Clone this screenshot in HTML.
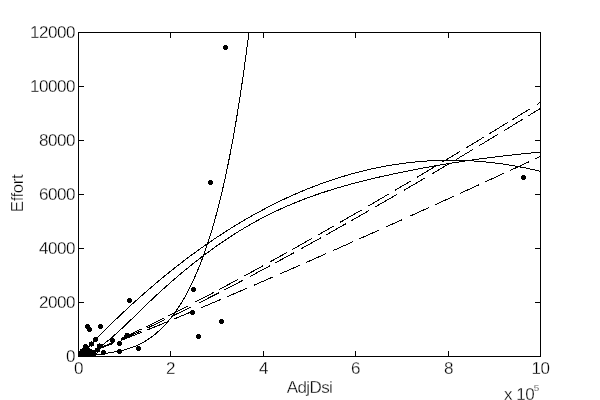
<!DOCTYPE html>
<html><head><meta charset="utf-8"><title>Effort vs AdjDsi</title>
<style>html,body{margin:0;padding:0;background:#fff;overflow:hidden}svg{display:block}</style>
</head><body>
<svg width="600" height="400" viewBox="0 0 600 400">
<rect width="600" height="400" fill="#fff"/>
<g fill="none" stroke="#000" stroke-width="1" shape-rendering="crispEdges">
<path d="M78.5 32.5H540.5V356.5H78.5Z"/>
<path d="M78.5 356V351 M78.5 33V38 M170.5 356V351 M170.5 33V38 M263.5 356V351 M263.5 33V38 M355.5 356V351 M355.5 33V38 M448.5 356V351 M448.5 33V38 M540.5 356V351 M540.5 33V38 M79 356.5H84 M540 356.5H535 M79 302.5H84 M540 302.5H535 M79 248.5H84 M540 248.5H535 M79 194.5H84 M540 194.5H535 M79 140.5H84 M540 140.5H535 M79 86.5H84 M540 86.5H535 M79 32.5H84 M540 32.5H535"/>
<clipPath id="c"><rect x="78" y="32" width="463" height="325"/></clipPath>
<g clip-path="url(#c)">
<path d="M78.5 357.44 L80.5 355.3 L82.5 353.17 L84.5 351.05 L86.5 348.95 L88.5 346.85 L90.5 344.77 L92.5 342.71 L94.5 340.65 L96.5 338.6 L98.5 336.57 L100.5 334.55 L102.5 332.54 L104.5 330.54 L106.5 328.56 L108.5 326.59 L110.5 324.62 L112.5 322.68 L114.5 320.74 L116.5 318.81 L118.5 316.9 L120.5 315 L122.5 313.11 L124.5 311.23 L126.5 309.36 L128.5 307.51 L130.5 305.66 L132.5 303.83 L134.5 302.01 L136.5 300.21 L138.5 298.41 L140.5 296.63 L142.5 294.86 L144.5 293.1 L146.5 291.35 L148.5 289.61 L150.5 287.89 L152.5 286.18 L154.5 284.48 L156.5 282.79 L158.5 281.11 L160.5 279.44 L162.5 277.79 L164.5 276.15 L166.5 274.52 L168.5 272.9 L170.5 271.29 L172.5 269.7 L174.5 268.11 L176.5 266.54 L178.5 264.98 L180.5 263.44 L182.5 261.9 L184.5 260.37 L186.5 258.86 L188.5 257.36 L190.5 255.87 L192.5 254.39 L194.5 252.93 L196.5 251.47 L198.5 250.03 L200.5 248.6 L202.5 247.18 L204.5 245.77 L206.5 244.38 L208.5 242.99 L210.5 241.62 L212.5 240.26 L214.5 238.91 L216.5 237.57 L218.5 236.25 L220.5 234.93 L222.5 233.63 L224.5 232.34 L226.5 231.06 L228.5 229.79 L230.5 228.54 L232.5 227.29 L234.5 226.06 L236.5 224.84 L238.5 223.63 L240.5 222.43 L242.5 221.24 L244.5 220.07 L246.5 218.9 L248.5 217.75 L250.5 216.61 L252.5 215.48 L254.5 214.37 L256.5 213.26 L258.5 212.17 L260.5 211.09 L262.5 210.01 L264.5 208.96 L266.5 207.91 L268.5 206.87 L270.5 205.85 L272.5 204.83 L274.5 203.83 L276.5 202.84 L278.5 201.86 L280.5 200.9 L282.5 199.94 L284.5 199 L286.5 198.06 L288.5 197.14 L290.5 196.23 L292.5 195.33 L294.5 194.45 L296.5 193.57 L298.5 192.71 L300.5 191.86 L302.5 191.01 L304.5 190.19 L306.5 189.37 L308.5 188.56 L310.5 187.77 L312.5 186.98 L314.5 186.21 L316.5 185.45 L318.5 184.7 L320.5 183.96 L322.5 183.23 L324.5 182.52 L326.5 181.82 L328.5 181.12 L330.5 180.44 L332.5 179.77 L334.5 179.11 L336.5 178.47 L338.5 177.83 L340.5 177.21 L342.5 176.59 L344.5 175.99 L346.5 175.4 L348.5 174.82 L350.5 174.26 L352.5 173.7 L354.5 173.16 L356.5 172.62 L358.5 172.1 L360.5 171.59 L362.5 171.09 L364.5 170.6 L366.5 170.13 L368.5 169.66 L370.5 169.21 L372.5 168.76 L374.5 168.33 L376.5 167.91 L378.5 167.5 L380.5 167.1 L382.5 166.72 L384.5 166.34 L386.5 165.98 L388.5 165.62 L390.5 165.28 L392.5 164.95 L394.5 164.63 L396.5 164.33 L398.5 164.03 L400.5 163.74 L402.5 163.47 L404.5 163.21 L406.5 162.96 L408.5 162.71 L410.5 162.49 L412.5 162.27 L414.5 162.06 L416.5 161.86 L418.5 161.68 L420.5 161.51 L422.5 161.35 L424.5 161.19 L426.5 161.05 L428.5 160.93 L430.5 160.81 L432.5 160.7 L434.5 160.61 L436.5 160.52 L438.5 160.45 L440.5 160.39 L442.5 160.34 L444.5 160.3 L446.5 160.27 L448.5 160.25 L450.5 160.25 L452.5 160.25 L454.5 160.27 L456.5 160.29 L458.5 160.33 L460.5 160.38 L462.5 160.44 L464.5 160.51 L466.5 160.6 L468.5 160.69 L470.5 160.8 L472.5 160.91 L474.5 161.04 L476.5 161.18 L478.5 161.32 L480.5 161.48 L482.5 161.66 L484.5 161.84 L486.5 162.03 L488.5 162.24 L490.5 162.45 L492.5 162.68 L494.5 162.91 L496.5 163.16 L498.5 163.42 L500.5 163.69 L502.5 163.97 L504.5 164.26 L506.5 164.57 L508.5 164.88 L510.5 165.21 L512.5 165.54 L514.5 165.89 L516.5 166.25 L518.5 166.62 L520.5 167 L522.5 167.39 L524.5 167.79 L526.5 168.2 L528.5 168.63 L530.5 169.06 L532.5 169.51 L534.5 169.96 L536.5 170.43 L538.5 170.91 L540.5 171.4 L540.5 171.4"/>
<path d="M78.5 357.91 L80.5 357.27 L82.5 356.54 L84.5 355.72 L86.5 354.82 L88.5 353.83 L90.5 352.77 L92.5 351.63 L94.5 350.43 L96.5 349.15 L98.5 347.81 L100.5 346.41 L102.5 344.95 L104.5 343.43 L106.5 341.87 L108.5 340.25 L110.5 338.59 L112.5 336.89 L114.5 335.14 L116.5 333.37 L118.5 331.56 L120.5 329.72 L122.5 327.85 L124.5 325.96 L126.5 324.05 L128.5 322.13 L130.5 320.19 L132.5 318.25 L134.5 316.29 L136.5 314.33 L138.5 312.38 L140.5 310.42 L142.5 308.47 L144.5 306.53 L146.5 304.61 L148.5 302.7 L150.5 300.8 L152.5 298.91 L154.5 297.04 L156.5 295.18 L158.5 293.34 L160.5 291.51 L162.5 289.69 L164.5 287.89 L166.5 286.1 L168.5 284.32 L170.5 282.56 L172.5 280.82 L174.5 279.09 L176.5 277.37 L178.5 275.67 L180.5 273.98 L182.5 272.3 L184.5 270.65 L186.5 269 L188.5 267.37 L190.5 265.76 L192.5 264.15 L194.5 262.57 L196.5 261 L198.5 259.44 L200.5 257.9 L202.5 256.37 L204.5 254.86 L206.5 253.37 L208.5 251.89 L210.5 250.42 L212.5 248.97 L214.5 247.54 L216.5 246.12 L218.5 244.72 L220.5 243.33 L222.5 241.95 L224.5 240.6 L226.5 239.26 L228.5 237.93 L230.5 236.62 L232.5 235.33 L234.5 234.05 L236.5 232.79 L238.5 231.54 L240.5 230.31 L242.5 229.1 L244.5 227.9 L246.5 226.72 L248.5 225.56 L250.5 224.41 L252.5 223.28 L254.5 222.16 L256.5 221.06 L258.5 219.98 L260.5 218.91 L262.5 217.86 L264.5 216.82 L266.5 215.8 L268.5 214.79 L270.5 213.8 L272.5 212.82 L274.5 211.86 L276.5 210.91 L278.5 209.98 L280.5 209.06 L282.5 208.15 L284.5 207.26 L286.5 206.38 L288.5 205.52 L290.5 204.66 L292.5 203.82 L294.5 203 L296.5 202.18 L298.5 201.38 L300.5 200.59 L302.5 199.81 L304.5 199.04 L306.5 198.29 L308.5 197.54 L310.5 196.81 L312.5 196.09 L314.5 195.38 L316.5 194.68 L318.5 193.99 L320.5 193.31 L322.5 192.64 L324.5 191.98 L326.5 191.33 L328.5 190.69 L330.5 190.06 L332.5 189.44 L334.5 188.82 L336.5 188.22 L338.5 187.62 L340.5 187.04 L342.5 186.46 L344.5 185.89 L346.5 185.33 L348.5 184.77 L350.5 184.22 L352.5 183.68 L354.5 183.15 L356.5 182.63 L358.5 182.11 L360.5 181.6 L362.5 181.09 L364.5 180.59 L366.5 180.1 L368.5 179.61 L370.5 179.13 L372.5 178.65 L374.5 178.18 L376.5 177.71 L378.5 177.25 L380.5 176.8 L382.5 176.35 L384.5 175.9 L386.5 175.46 L388.5 175.02 L390.5 174.58 L392.5 174.15 L394.5 173.72 L396.5 173.3 L398.5 172.88 L400.5 172.47 L402.5 172.06 L404.5 171.65 L406.5 171.24 L408.5 170.84 L410.5 170.45 L412.5 170.05 L414.5 169.66 L416.5 169.28 L418.5 168.9 L420.5 168.52 L422.5 168.15 L424.5 167.78 L426.5 167.41 L428.5 167.05 L430.5 166.69 L432.5 166.33 L434.5 165.98 L436.5 165.63 L438.5 165.29 L440.5 164.94 L442.5 164.61 L444.5 164.27 L446.5 163.94 L448.5 163.61 L450.5 163.29 L452.5 162.97 L454.5 162.65 L456.5 162.34 L458.5 162.03 L460.5 161.72 L462.5 161.42 L464.5 161.12 L466.5 160.83 L468.5 160.53 L470.5 160.24 L472.5 159.96 L474.5 159.68 L476.5 159.4 L478.5 159.12 L480.5 158.85 L482.5 158.58 L484.5 158.31 L486.5 158.05 L488.5 157.79 L490.5 157.54 L492.5 157.28 L494.5 157.03 L496.5 156.79 L498.5 156.54 L500.5 156.3 L502.5 156.07 L504.5 155.83 L506.5 155.6 L508.5 155.38 L510.5 155.15 L512.5 154.93 L514.5 154.71 L516.5 154.5 L518.5 154.29 L520.5 154.08 L522.5 153.87 L524.5 153.67 L526.5 153.47 L528.5 153.27 L530.5 153.08 L532.5 152.89 L534.5 152.7 L536.5 152.52 L538.5 152.34 L540.5 152.16 L540.5 152.16"/>
<path d="M78.5 355.5 L90 354.6 L96 354.5 L97 354.5 L98 354.5 L99 354.5 L100 354.31 L101 354.13 L102 353.95 L103 353.78 L104 353.61 L105 353.45 L106 353.29 L107 353.13 L108 352.97 L109 352.81 L110 352.66 L111 352.5 L112 352.33 L113 352.17 L114 352 L115 351.82 L116 351.64 L117 351.45 L118 351.26 L119 351.06 L120 350.84 L121 350.63 L122 350.4 L123 350.16 L124 349.91 L125 349.65 L126 349.37 L127 349.09 L128 348.79 L129 348.48 L130 348.15 L131 347.82 L132 347.46 L133 347.09 L134 346.71 L135 346.31 L136 345.89 L137 345.45 L138 345 L139 344.53 L140 344.04 L141 343.54 L142 343.01 L143 342.47 L144 341.9 L145 341.32 L146 340.71 L147 340.09 L148 339.44 L149 338.77 L150 338.08 L151 337.37 L152 336.63 L153 335.88 L154 335.09 L155 334.29 L156 333.46 L157 332.6 L158 331.72 L159 330.82 L160 329.89 L161 328.93 L162 327.94 L163 326.93 L164 325.89 L165 324.82 L166 323.73 L167 322.6 L168 321.45 L169 320.26 L170 319.04 L171 317.79 L172 316.51 L173 315.2 L174 313.85 L175 312.47 L176 311.06 L177 309.61 L178 308.13 L179 306.6 L180 305.04 L181 303.45 L182 301.81 L183 300.13 L184 298.42 L185 296.66 L186 294.86 L187 293.02 L188 291.13 L189 289.2 L190 287.22 L191 285.19 L192 283.12 L193 281 L194 278.82 L195 276.6 L196 274.32 L197 271.99 L198 269.6 L199 267.16 L200 264.66 L201 262.1 L202 259.48 L203 256.8 L204 254.05 L205 251.24 L206 248.37 L207 245.42 L208 242.41 L209 239.32 L210 236.16 L211 232.92 L212 229.61 L213 226.22 L214 222.75 L215 219.2 L216 215.56 L217 211.84 L218 208.03 L219 204.13 L220 200.13 L221 196.04 L222 191.85 L223 187.56 L224 183.17 L225 178.68 L226 174.08 L227 169.37 L228 164.54 L229 159.6 L230 154.55 L231 149.37 L232 144.07 L233 138.64 L234 133.09 L235 127.4 L236 121.58 L237 115.62 L238 109.52 L239 103.27 L240 96.87 L241 90.33 L242 83.62 L243 76.76 L244 69.74 L245 62.55 L246 55.19 L247 47.66 L248 39.95 L249 32.06 L249.3 32.5"/>
<path d="M121 339.21 L125.33 337.27 L129.67 335.31 L134 333.32 M93 350.7 L99.67 347.97 L106.33 345.14 L113 342.21 M121 338.61 L127.83 335.46 L134.67 332.25 L141.5 329 M146 326.83 L152 323.91 L158 320.96 L164 317.98 M168.3 315.83 L174.7 312.6 L181.1 309.35 L187.5 306.07 M195.2 302.09 L201.55 298.78 L207.9 295.45 L214.25 292.1 M219.2 289.48 L225.55 286.09 L231.9 282.69 L238.25 279.27 M244.25 276.02 L250.5 272.62 L256.75 269.2 L263 265.77 M269.5 262.19 L275.25 259 L281 255.81 L286.75 252.6 M292.3 249.49 L298.8 245.84 L305.3 242.18 L311.8 238.5 M317.5 235.26 L323 232.13 L328.5 228.98 L334 225.83 M340.2 222.27 L347.3 218.18 L354.4 214.07 L361.5 209.95 M368.25 206.02 L375 202.08 L381.75 198.13 L388.5 194.17 M395.25 190.19 L400.5 187.09 L405.75 183.99 L411 180.88 M417.25 177.16 L423.5 173.44 L429.75 169.71 L436 165.97 M442.75 161.93 L448.4 158.53 L454.05 155.13 L459.7 151.72 M466 147.91 L472 144.28 L478 140.64 L484 136.99 M489.25 133.79 L495.4 130.04 L501.55 126.28 L507.7 122.51 M512.2 119.75 L518.05 116.16 L523.9 112.56 L529.75 108.95 M537.25 104.32 L538.33 103.65 L539.42 102.98 L540.5 102.31 M93 351.17 L99.67 348.63 L106.33 345.97 L113 343.22 M121 339.81 L127.83 336.82 L134.67 333.78 L141.5 330.67 M147.5 327.91 L153.27 325.21 L159.03 322.49 L164.8 319.74 M172 316.26 L178.5 313.09 L185 309.89 L191.5 306.66 M199 302.9 L205.58 299.57 L212.17 296.21 L218.75 292.83 M224 290.12 L230.5 286.74 L237 283.34 L243.5 279.92 M250.25 276.34 L256.75 272.88 L263.25 269.4 L269.75 265.9 M275.2 262.96 L281.4 259.59 L287.6 256.21 L293.8 252.81 M301.5 248.57 L307.93 245.02 L314.37 241.44 L320.8 237.86 M326.5 234.67 L333 231.01 L339.5 227.35 L346 223.67 M351 220.83 L356.9 217.47 L362.8 214.1 L368.7 210.72 M375 207.1 L382.25 202.92 L389.5 198.72 L396.75 194.51 M403.8 190.41 L410.78 186.32 L417.77 182.23 L424.75 178.12 M432.25 173.7 L438 170.3 L443.75 166.89 L449.5 163.47 M456.25 159.45 L461.83 156.11 L467.42 152.77 L473 149.42 M479.2 145.69 L485.4 141.96 L491.6 138.21 L497.8 134.46 M504.25 130.55 L510.4 126.81 L516.55 123.06 L522.7 119.31 M528.25 115.91 L532.33 113.41 L536.42 110.9 L540.5 108.4 M93 350.96 L99.67 348.52 L106.33 346.02 L113 343.48 M121 340.39 L127.83 337.71 L134.67 335.01 L141.5 332.28 M147 330.07 L153.33 327.51 L159.67 324.93 L166 322.34 M173.5 319.26 L179 316.98 L184.5 314.7 L190 312.4 M200.75 307.9 L207.5 305.06 L214.25 302.2 L221 299.34 M227.5 296.57 L233.93 293.83 L240.37 291.07 L246.8 288.31 M254 285.2 L260.25 282.5 L266.5 279.8 L272.75 277.08 M280 273.93 L286.5 271.09 L293 268.25 L299.5 265.4 M306.25 262.43 L312.75 259.57 L319.25 256.7 L325.75 253.83 M333.25 250.51 L339.75 247.63 L346.25 244.74 L352.75 241.84 M359.5 238.83 L365.92 235.96 L372.33 233.09 L378.75 230.21 M385.5 227.18 L391.17 224.64 L396.83 222.08 L402.5 219.53 M410 216.14 L416.25 213.32 L422.5 210.49 L428.75 207.65 M435 204.82 L441.25 201.97 L447.5 199.13 L453.75 196.28 M460 193.43 L466.25 190.57 L472.5 187.72 L478.75 184.85 M485 181.99 L491.25 179.12 L497.5 176.25 L503.75 173.38 M510 170.5 L516.25 167.62 L522.5 164.73 L528.75 161.85 M535 158.96 L536.83 158.11 L538.67 157.26 L540.5 156.41"/>
</g>
</g>
<g fill="#000" shape-rendering="crispEdges">
<circle cx="225.5" cy="47.5" r="2.6"/>
<circle cx="210.5" cy="182.5" r="2.6"/>
<circle cx="523.5" cy="177.5" r="2.6"/>
<circle cx="193.5" cy="289.5" r="2.6"/>
<circle cx="192.5" cy="312.5" r="2.6"/>
<circle cx="221.5" cy="321.5" r="2.6"/>
<circle cx="198.5" cy="336.5" r="2.6"/>
<circle cx="129.5" cy="300.5" r="2.6"/>
<circle cx="100.5" cy="326.5" r="2.6"/>
<circle cx="87.5" cy="326.5" r="2.6"/>
<circle cx="89.5" cy="329.5" r="2.6"/>
<circle cx="138.5" cy="348.5" r="2.6"/>
<circle cx="119.5" cy="351.5" r="2.6"/>
<circle cx="119.5" cy="343.5" r="2.6"/>
<circle cx="127" cy="335.5" r="2.6"/>
<circle cx="112.5" cy="340.5" r="2.6"/>
<circle cx="103.5" cy="352.5" r="2.6"/>
<circle cx="95.5" cy="339.5" r="2.6"/>
<circle cx="91.5" cy="344" r="2.6"/>
<circle cx="85.5" cy="346.5" r="2.6"/>
<circle cx="99.5" cy="346" r="2.6"/>
<circle cx="80.5" cy="353.5" r="2.6"/>
<circle cx="82.5" cy="353.5" r="2.6"/>
<circle cx="84.5" cy="353.5" r="2.6"/>
<circle cx="86.5" cy="353.5" r="2.6"/>
<circle cx="88.5" cy="353.5" r="2.6"/>
<circle cx="90.5" cy="353.5" r="2.6"/>
<circle cx="92.5" cy="353.5" r="2.6"/>
<circle cx="94" cy="353.5" r="2.6"/>
<circle cx="82.6" cy="351.2" r="2.6"/>
<circle cx="84.5" cy="351" r="2.6"/>
<circle cx="87" cy="351.5" r="2.6"/>
<circle cx="89.5" cy="352.3" r="2.6"/>
<circle cx="91.5" cy="352.5" r="2.6"/>
<circle cx="84.5" cy="349.5" r="2.6"/>
<circle cx="87.3" cy="349.8" r="2.6"/>
<circle cx="90.5" cy="351.7" r="2.6"/>
<circle cx="93" cy="352.3" r="2.6"/>
<circle cx="97.5" cy="350" r="2.6"/>
</g>
<g font-family="'Liberation Sans', sans-serif" font-size="17" fill="#000" stroke="#fff" stroke-width="0.3">
<g text-anchor="end" letter-spacing="-0.45">
<text x="75" y="362.3">0</text>
<text x="75" y="308.3">2000</text>
<text x="75" y="254.3">4000</text>
<text x="75" y="200.3">6000</text>
<text x="75" y="146.3">8000</text>
<text x="75" y="92.3">10000</text>
<text x="75" y="38.3">12000</text>
</g>
<g text-anchor="middle" letter-spacing="-0.45">
<text x="78.5" y="374.2">0</text>
<text x="170.5" y="374.2">2</text>
<text x="263.5" y="374.2">4</text>
<text x="355.5" y="374.2">6</text>
<text x="448.5" y="374.2">8</text>
<text x="540.5" y="374.2">10</text>
</g>
<text x="309.5" y="393" text-anchor="middle" letter-spacing="-0.6">AdjDsi</text>
<text transform="translate(23 193.5) rotate(-90)" text-anchor="middle" letter-spacing="-0.5">Effort</text>
<text x="504" y="400.2" letter-spacing="-0.45">x 10</text>
<text x="533.7" y="390.7" font-size="9.8">5</text>
</g>
</svg>
</body></html>
